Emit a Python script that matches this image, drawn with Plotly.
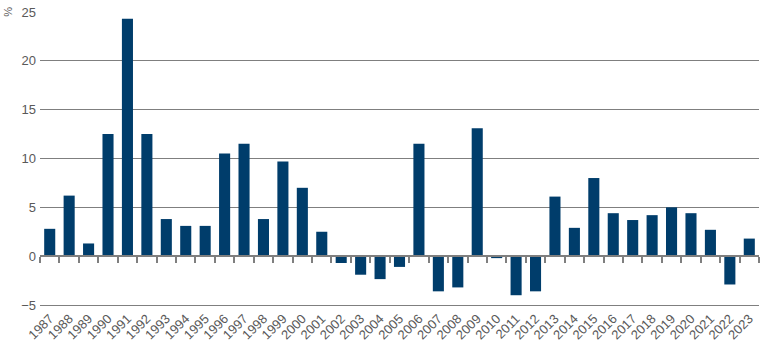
import plotly.graph_objects as go

# Annual returns, %
years = list(range(1987, 2024))
values = [2.8, 6.2, 1.3, 12.5, 24.3, 12.5, 3.8, 3.1, 3.1, 10.5,
          11.5, 3.8, 9.7, 7.0, 2.5, -0.7, -1.9, -2.35, -1.1, 11.5,
          -3.6, -3.2, 13.1, -0.2, -4.0, -3.6, 6.1, 2.9, 8.0, 4.4,
          3.7, 4.2, 5.0, 4.4, 2.7, -2.9, 1.8]
y_ticks = [-5, 0, 5, 10, 15, 20, 25]

BAR = "#003d6b"
GRID = "#7f7f7f"
TEXT = "#595959"
FONT = "Liberation Sans, Arial, sans-serif"

x_range = [years[0] - 0.5, years[-1] + 0.5]
y_range = [y_ticks[0], y_ticks[-1]]
# category boundaries for the tick marks on the zero line
boundaries = [y - 0.5 for y in years] + [years[-1] + 0.5]

fig = go.Figure()
fig.add_trace(go.Bar(x=years, y=values, marker=dict(color=BAR, line=dict(width=0)),
                     width=0.57, hoverinfo="x+y"))

fig.update_layout(
    width=770, height=345,
    margin=dict(l=40, r=11, t=12, b=40, autoexpand=False),
    paper_bgcolor="white", plot_bgcolor="white",
    showlegend=False,
    font=dict(family=FONT, color=TEXT),
    xaxis=dict(
        range=x_range, tickmode="array", tickvals=years,
        ticktext=[str(y) for y in years], tickangle=-45,
        showgrid=False, zeroline=False, ticks="",
        # bottom line doubles as the -5 gridline
        showline=True, linecolor=GRID, linewidth=1,
        tickfont=dict(size=13, color=TEXT), automargin=False,
    ),
    xaxis2=dict(
        overlaying="x", anchor="free",
        position=(0 - y_range[0]) / (y_range[1] - y_range[0]),
        range=x_range, tickmode="array", tickvals=boundaries,
        showticklabels=False, showgrid=False, zeroline=False,
        showline=True, linecolor=GRID, linewidth=2,
        ticks="outside", ticklen=6, tickwidth=2, tickcolor=GRID,
        automargin=False,
    ),
    yaxis=dict(
        range=y_range, tickmode="array", tickvals=y_ticks,
        showgrid=True, gridcolor=GRID, gridwidth=1,
        zeroline=False, showline=False, ticks="",
        tickfont=dict(size=13, color=TEXT), ticklabelstandoff=3,
        automargin=False,
    ),
)
# dummy trace so the zero-line axis is rendered
fig.add_trace(go.Scatter(x=[years[0]], y=[0], xaxis="x2", mode="markers",
                         marker=dict(opacity=0), hoverinfo="skip"))

fig.add_annotation(text="%", xref="paper", yref="paper", x=-0.045, y=1.0,
                   xanchor="center", yanchor="middle", showarrow=False,
                   textangle=-90, font=dict(size=11, color=TEXT))

fig.write_html("out.html")
